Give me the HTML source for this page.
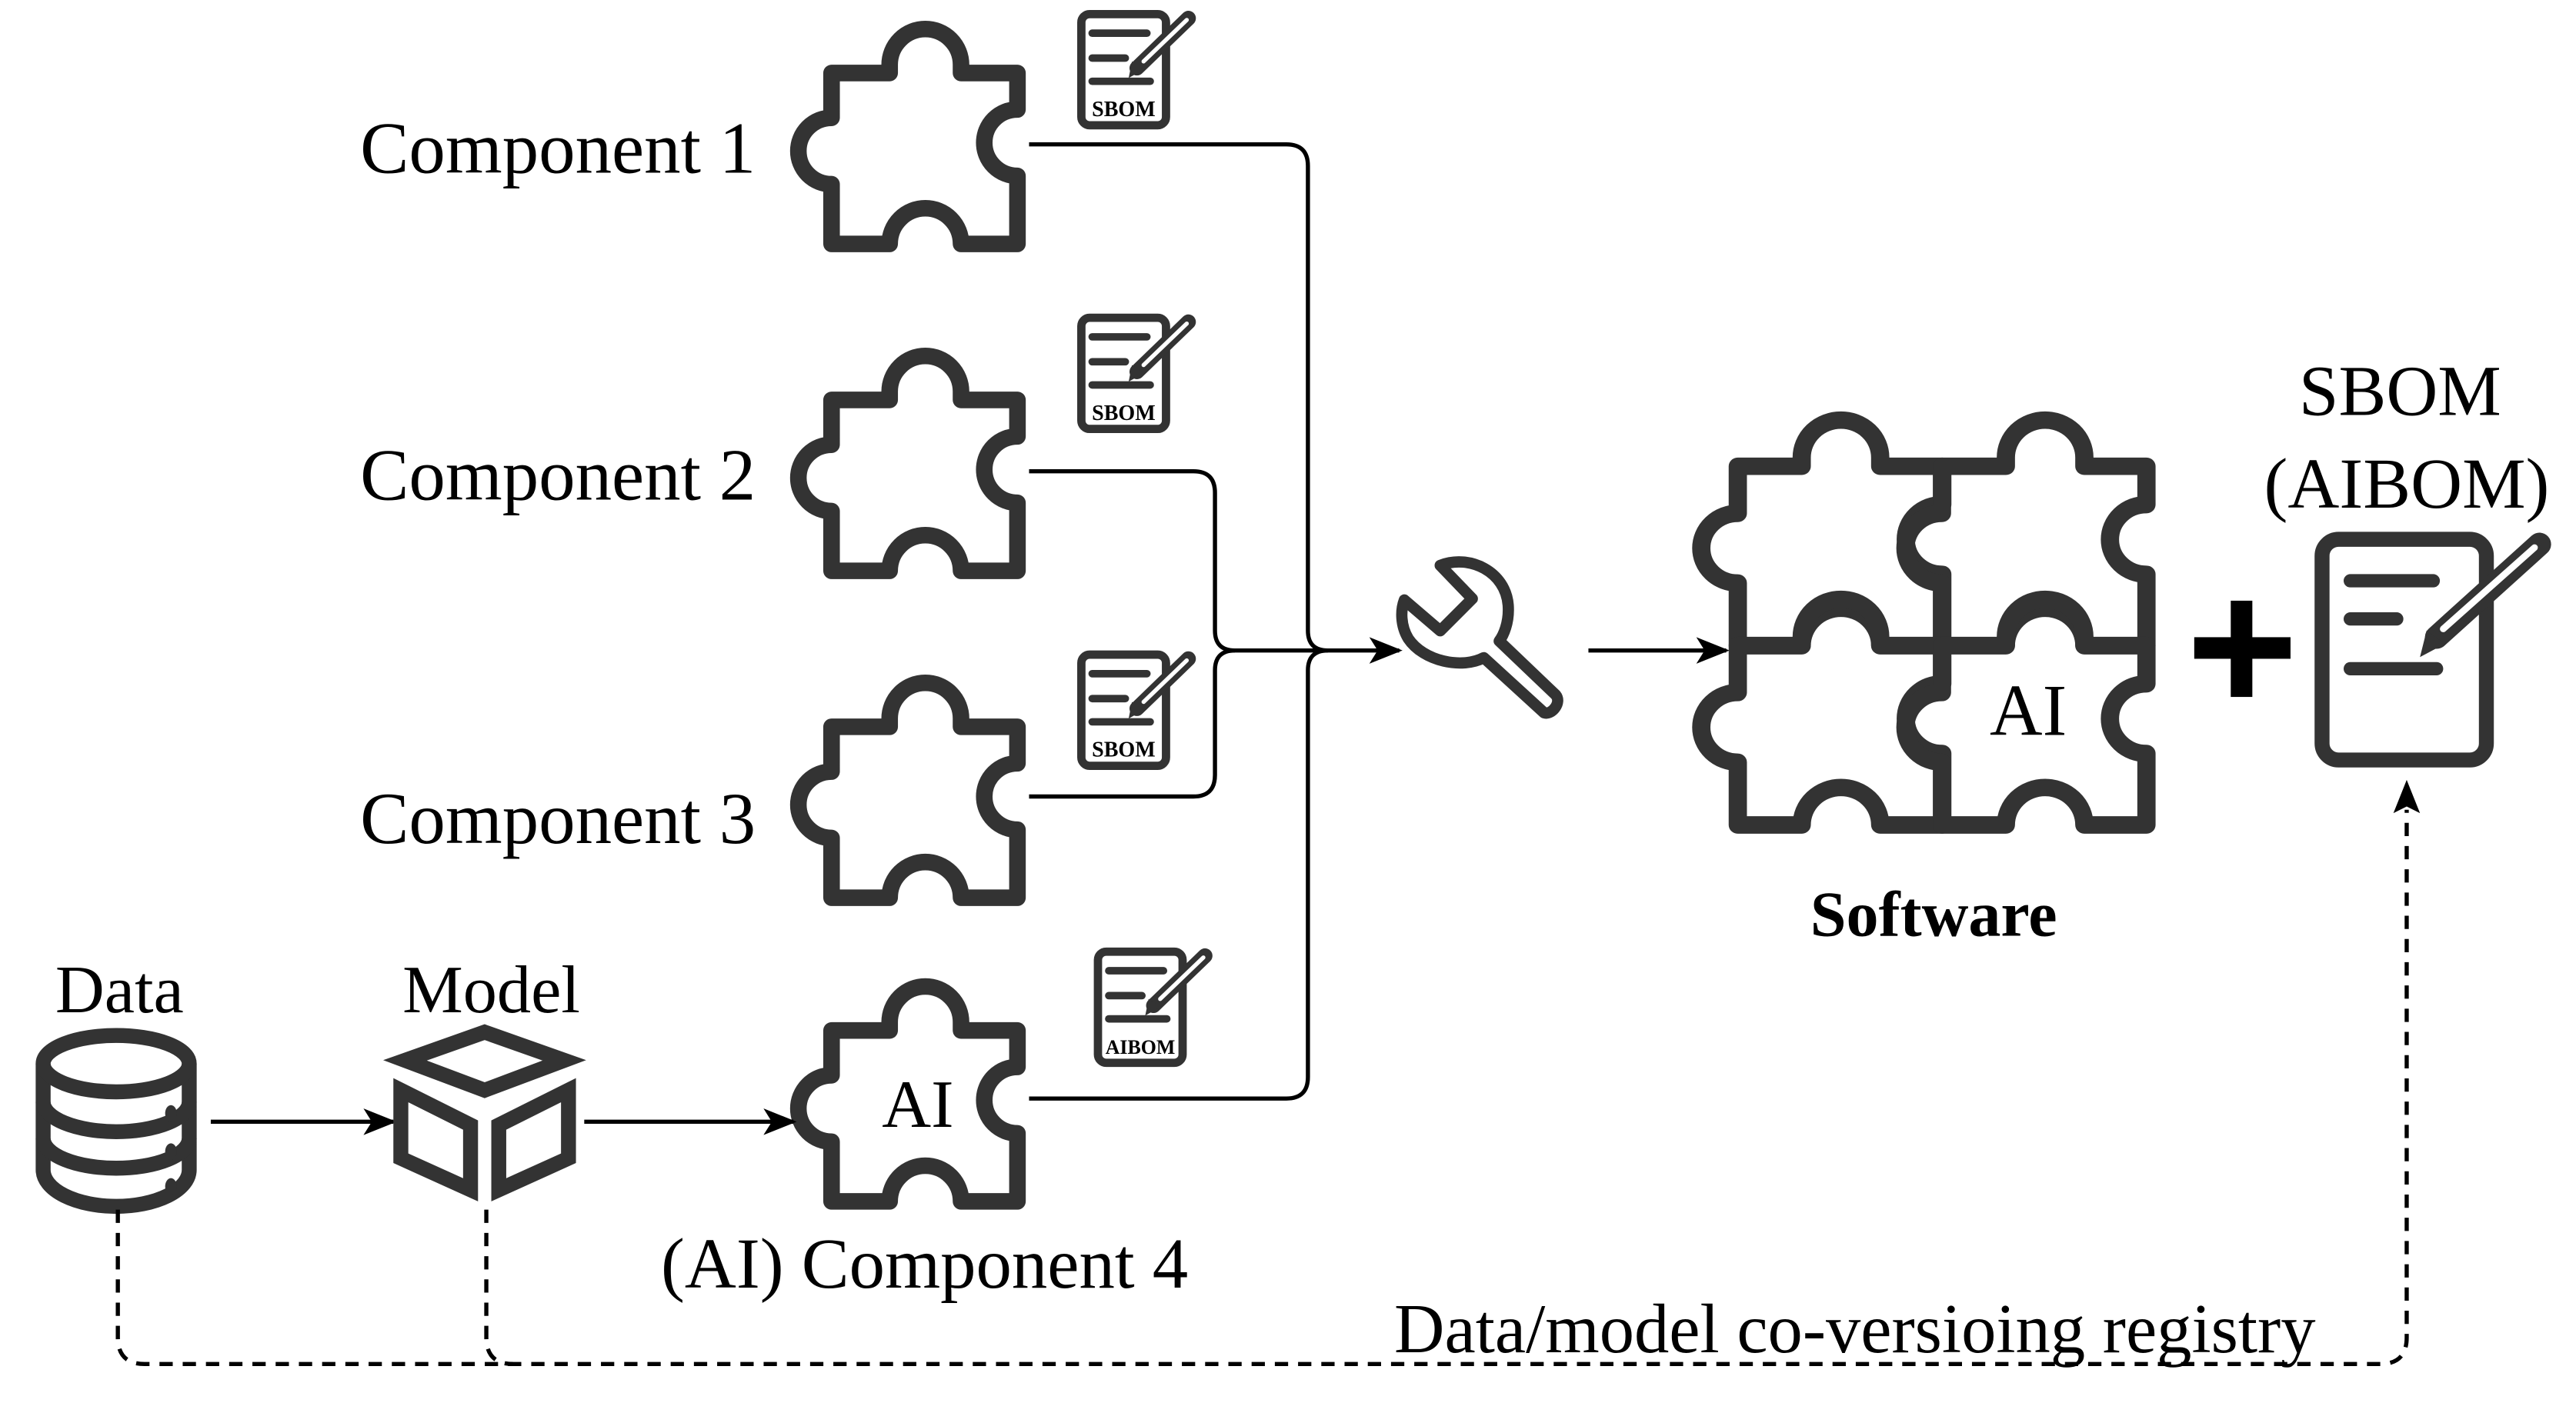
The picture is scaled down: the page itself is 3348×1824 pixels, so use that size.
<!DOCTYPE html>
<html><head><meta charset="utf-8"><style>
html,body{margin:0;padding:0;background:#fff;}
svg{display:block;}
text{font-family:"Liberation Serif",serif;fill:#000;}
</style></head><body>
<svg width="3348" height="1824" viewBox="0 0 1552 845.5" preserveAspectRatio="none" xmlns="http://www.w3.org/2000/svg">
<defs>
<path id="pz" d="M0,0 H35 V-5 A21.5,21.5 0 0 1 78,-5 V0 H112 V22 A20,20 0 0 0 112,62 V103 H78 A21.5,21.5 0 0 0 35,103 H0 V67 A20,20 0 0 1 0,27 Z" fill="none" stroke="#333" stroke-width="10" stroke-linejoin="round"/>
<g id="doc">
<rect x="2.5" y="2.5" width="51" height="67" rx="5" fill="#fff" stroke="#333" stroke-width="5"/>
<line x1="9" y1="14" x2="42" y2="14" stroke="#333" stroke-width="4.5" stroke-linecap="round"/>
<line x1="9" y1="29" x2="29" y2="29" stroke="#333" stroke-width="4.5" stroke-linecap="round"/>
<line x1="9" y1="43" x2="44" y2="43" stroke="#333" stroke-width="4.5" stroke-linecap="round"/>
<line x1="36" y1="35" x2="67" y2="5" stroke="#333" stroke-width="9" stroke-linecap="round"/>
<line x1="40" y1="31" x2="66" y2="6" stroke="#fff" stroke-width="2.5" stroke-linecap="round"/>
<path d="M31,41 L33,31 L40,36 Z" fill="#333"/>
</g>
<marker id="ah" viewBox="0 0 20 20" refX="18" refY="10" markerWidth="20" markerHeight="20" markerUnits="userSpaceOnUse" orient="auto">
<path d="M0,2 L20,10 L0,18 L5,10 Z" fill="#000"/>
</marker>
</defs>

<use href="#pz" x="501" y="44"/>
<use href="#pz" x="501" y="241"/>
<use href="#pz" x="501" y="438"/>
<use href="#pz" x="501" y="621"/>
<text x="553" y="679" font-size="41" text-anchor="middle">AI</text>

<text x="217" y="104" font-size="44">Component 1</text>
<text x="217" y="301" font-size="44">Component 2</text>
<text x="217" y="508" font-size="44">Component 3</text>
<text x="557" y="776" font-size="43" text-anchor="middle">(AI) Component 4</text>

<use href="#doc" x="649" y="6"/>
<text x="677" y="70" font-size="13" font-weight="bold" text-anchor="middle">SBOM</text>
<use href="#doc" x="649" y="189"/>
<text x="677" y="253" font-size="13" font-weight="bold" text-anchor="middle">SBOM</text>
<use href="#doc" x="649" y="392"/>
<text x="677" y="456" font-size="13" font-weight="bold" text-anchor="middle">SBOM</text>
<use href="#doc" x="659" y="571"/>
<text x="687" y="635" font-size="12" font-weight="bold" text-anchor="middle">AIBOM</text>

<g fill="none" stroke="#000" stroke-width="2.5">
<path d="M620,87 H775 Q788,87 788,100 V380 Q788,392 800,392"/>
<path d="M620,662 H775 Q788,662 788,649 V404 Q788,392 800,392"/>
<path d="M620,284 H719 Q732,284 732,297 V380 Q732,392 744,392"/>
<path d="M620,480 H719 Q732,480 732,467 V404 Q732,392 744,392"/>
<path d="M744,392 H843" marker-end="url(#ah)"/>
<path d="M957,392 H1040" marker-end="url(#ah)"/>
<path d="M127,676 H237" marker-end="url(#ah)"/>
<path d="M352,676 H478" marker-end="url(#ah)"/>
</g>

<g transform="translate(834.5,324.5) scale(0.1545)">
<path d="M215,105 C330,60 470,130 480,260 C485,330 460,380 445,400 L665,610 C690,640 650,690 620,680 L385,465 C300,510 150,480 90,390 C60,340 60,280 75,240 L215,360 L340,235 Z" fill="none" stroke="#333" stroke-width="44" stroke-linejoin="round"/>
</g>

<g>
<use href="#pz" transform="translate(1047,281) scale(1.1,1.05)"/>
<use href="#pz" transform="translate(1170,281) scale(1.1,1.05)"/>
<use href="#pz" transform="translate(1047,389) scale(1.1,1.05)"/>
<use href="#pz" transform="translate(1170,389) scale(1.1,1.05)"/>
</g>
<text x="1222" y="443" font-size="44" text-anchor="middle">AI</text>
<text x="1165" y="564" font-size="39" font-weight="bold" text-anchor="middle">Software</text>

<rect x="1344" y="362" width="13" height="58" fill="#000"/>
<rect x="1322" y="384" width="58" height="13" fill="#000"/>

<text x="1446" y="250" font-size="43" text-anchor="middle">SBOM</text>
<text x="1450" y="306" font-size="43" text-anchor="middle">(AIBOM)</text>
<g>
<rect x="1399" y="325" width="99" height="133" rx="10" fill="#fff" stroke="#333" stroke-width="9"/>
<line x1="1416" y1="350" x2="1466" y2="350" stroke="#333" stroke-width="8" stroke-linecap="round"/>
<line x1="1416" y1="373" x2="1444" y2="373" stroke="#333" stroke-width="8" stroke-linecap="round"/>
<line x1="1416" y1="403" x2="1468" y2="403" stroke="#333" stroke-width="8" stroke-linecap="round"/>
<line x1="1468" y1="384" x2="1530" y2="328" stroke="#333" stroke-width="14" stroke-linecap="round"/>
<line x1="1472" y1="379" x2="1527" y2="330" stroke="#fff" stroke-width="4" stroke-linecap="round"/>
<path d="M1458,396 L1462,380 L1473,388 Z" fill="#333"/>
</g>

<g fill="none" stroke="#333" stroke-width="9">
<path d="M26,641 V705 A44,22 0 0 0 114,705 V641"/>
<ellipse cx="70" cy="641" rx="44" ry="17"/>
<path d="M26,664 A44,18 0 0 0 114,664"/>
<path d="M26,686 A44,18 0 0 0 114,686"/>
</g>
<ellipse cx="103" cy="671" rx="3.5" ry="5" fill="#333"/>
<ellipse cx="103" cy="694" rx="3.5" ry="5" fill="#333"/>
<ellipse cx="103" cy="715" rx="3.5" ry="5" fill="#333"/>
<text x="72" y="610" font-size="41" text-anchor="middle">Data</text>

<g fill="none" stroke="#333" stroke-width="9" stroke-linejoin="miter">
<polygon points="292,622 340,639 292,657 244,639"/>
<polygon points="241.5,657 283.5,678 283.5,717 241.5,698"/>
<polygon points="342.5,657 300.5,678 300.5,717 342.5,698"/>
</g>
<text x="296" y="610" font-size="41" text-anchor="middle">Model</text>

<g fill="none" stroke="#000" stroke-width="2.5" stroke-dasharray="8,6">
<path d="M71,729 V806 Q71,822 87,822 H1434 Q1450,822 1450,806 V488"/>
<path d="M293,729 V806 Q293,822 309,822"/>
</g>
<path d="M1450,470 L1442,490 L1450,486 L1458,490 Z" fill="#000"/>
<text x="840" y="815" font-size="42">Data/model co-versioing registry</text>
</svg>
</body></html>
